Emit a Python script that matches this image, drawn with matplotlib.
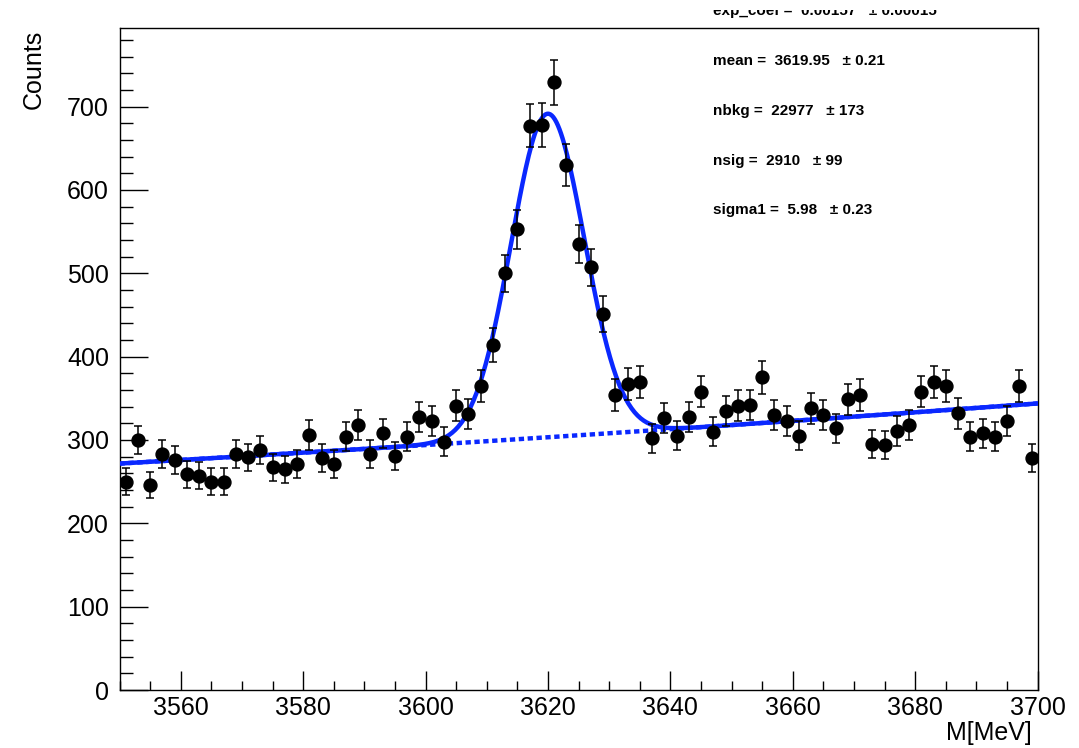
import numpy as np
import matplotlib
matplotlib.use('Agg')
import matplotlib.pyplot as plt
from matplotlib.ticker import MultipleLocator
from matplotlib.transforms import Bbox, TransformedBbox

plt.rcParams['font.family'] = ['Liberation Sans', 'DejaVu Sans']

# histogram, 2 MeV bins from 3550 to 3700
x_lo, x_hi, bin_w = 3550, 3700, 2
counts = [250, 300, 246, 283, 276, 259, 257, 250, 250, 283,
          279, 288, 267, 265, 271, 306, 278, 271, 304, 318,
          283, 308, 281, 304, 328, 323, 298, 341, 331, 365,
          414, 500, 553, 677, 678, 729, 630, 535, 507, 451,
          354, 367, 369, 302, 326, 305, 328, 358, 310, 335,
          341, 342, 375, 330, 323, 305, 338, 330, 314, 349,
          354, 295, 294, 311, 318, 358, 370, 365, 332, 304,
          308, 304, 323, 365, 278]

# fit results
exp_coef, exp_coef_err = 0.00157, 0.00015
mean, mean_err = 3619.95, 0.21
nbkg, nbkg_err = 22977, 173
nsig, nsig_err = 2910, 99
sigma1, sigma1_err = 5.98, 0.23

centers = x_lo + bin_w / 2 + bin_w * np.arange(len(counts))
counts = np.array(counts)
errors = np.sqrt(counts)

xs = np.linspace(x_lo, x_hi, 600)
bkg = nbkg * bin_w * exp_coef * np.exp(exp_coef * (xs - x_lo)) / (np.exp(exp_coef * (x_hi - x_lo)) - 1)
sig = nsig * bin_w * np.exp(-0.5 * ((xs - mean) / sigma1) ** 2) / (np.sqrt(2 * np.pi) * sigma1)
total = bkg + sig

fig = plt.figure(figsize=(10.79, 7.48), dpi=100)
ax = fig.add_axes([119.5 / 1079, 1 - 690 / 748, 918.2 / 1079, 661.7 / 748])

blue = '#0a28ff'
ax.plot(xs, bkg, color=blue, lw=3.2, linestyle=(0, (1.2, 0.8)), zorder=2)
ax.plot(xs, total, color=blue, lw=3.2, zorder=3)
ax.errorbar(centers, counts, yerr=errors, fmt='o', color='black', ms=9.3,
            elinewidth=1.1, capsize=2.9, capthick=1.1, zorder=4)

ax.set_xlim(x_lo, x_hi)
ax.set_ylim(0, 794)
ax.xaxis.set_major_locator(MultipleLocator(20))
ax.xaxis.set_minor_locator(MultipleLocator(5))
ax.yaxis.set_major_locator(MultipleLocator(100))
ax.yaxis.set_minor_locator(MultipleLocator(20))
ax.tick_params(axis='both', which='both', direction='in', width=1, labelsize=18)
ax.tick_params(axis='x', which='major', length=13.7, pad=4)
ax.tick_params(axis='x', which='minor', length=6.8)
ax.tick_params(axis='y', which='major', length=20, pad=7.5)
ax.tick_params(axis='y', which='minor', length=9.4)
for s in ax.spines.values():
    s.set_linewidth(1)

fig.text(34 / 1079, 1 - 30 / 748, 'Counts', rotation=90, ha='center', va='top', fontsize=18)
fig.text(1032 / 1079, 1 - 745 / 748, 'M[MeV]', ha='right', va='bottom', fontsize=18)

# fit parameter box, top entry cut off at the edge
lines = ['exp_coef =  %.5f   \u00b1 %.5f' % (exp_coef, exp_coef_err),
         'mean =  %.2f   \u00b1 %.2f' % (mean, mean_err),
         'nbkg =  %d   \u00b1 %d' % (nbkg, nbkg_err),
         'nsig =  %d   \u00b1 %d' % (nsig, nsig_err),
         'sigma1 =  %.2f   \u00b1 %.2f' % (sigma1, sigma1_err)]
clip = TransformedBbox(Bbox([[0, 0], [1, 1 - 9.5 / 748]]), fig.transFigure)
for i, line in enumerate(lines):
    t = fig.text(713 / 1079, 1 - (11.5 + 49.7 * i) / 748, line, va='center',
                 fontsize=11, fontweight='bold')
    t.set_clip_box(clip)
    t.set_clip_on(True)

fig.savefig('out.png', dpi=100)
